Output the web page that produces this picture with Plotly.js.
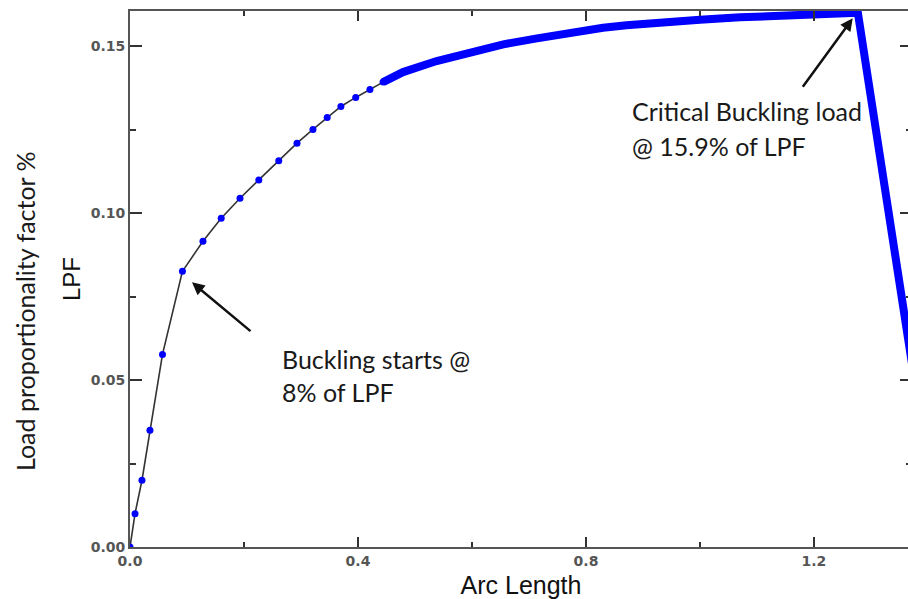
<!DOCTYPE html>
<html>
<head>
<meta charset="utf-8">
<script src="https://cdn.plot.ly/plotly-3.0.1.min.js"></script>
<style>
html,body{margin:0;padding:0;overflow:hidden;background:#fff;}
#chart{width:912px;height:599px;}
</style>
</head>
<body>
<div id="chart"></div>
<script>
// Pre-buckling / early post-buckling points (blue markers, black line)
const arcSparse = [0.0, 0.0088, 0.021, 0.035, 0.057, 0.092, 0.128, 0.160, 0.193, 0.226, 0.261, 0.293, 0.321, 0.346, 0.370, 0.396, 0.421, 0.444];
const lpfSparse = [0.0, 0.0100, 0.0200, 0.0350, 0.0577, 0.0826, 0.0916, 0.0985, 0.1045, 0.1100, 0.1157, 0.1210, 0.1251, 0.1287, 0.1320, 0.1347, 0.1371, 0.1393];

// Dense increments (drawn as thick blue band) up to critical load and the drop
const arcDense = [0.444, 0.479, 0.538, 0.596, 0.655, 0.714, 0.772, 0.830, 0.871, 0.930, 1.000, 1.070, 1.140, 1.211, 1.277, 1.361, 1.400];
const lpfDense = [0.1393, 0.1423, 0.1456, 0.1483, 0.1506, 0.1524, 0.1541, 0.1556, 0.1563, 0.1572, 0.1580, 0.1587, 0.1593, 0.1598, 0.1601, 0.0670, 0.0238];

const xTickVals = [0.0, 0.4, 0.8, 1.2];
const xTickText = ["0.0", "0.4", "0.8", "1.2"];
const yTickVals = [0.00, 0.05, 0.10, 0.15];
const yTickText = ["0.00", "0.05", "0.10", "0.15"];

const traces = [
  {
    x: arcDense, y: lpfDense, type: 'scatter', mode: 'lines',
    line: {color: '#0000ff', width: 8, shape: 'linear'},
    hoverinfo: 'skip'
  },
  {
    x: arcSparse, y: lpfSparse, type: 'scatter', mode: 'lines+markers',
    line: {color: '#333333', width: 1.6},
    marker: {color: '#0000ff', size: 7}
  }
];

const tickFont = {family: 'DejaVu Sans', size: 14, color: '#555', weight: 'bold'};
const noteFont = {family: 'Lato', size: 25, color: '#1a1a1a'};

const layout = {
  width: 912, height: 599,
  margin: {l: 130, r: 0, t: 11, b: 52},
  paper_bgcolor: '#fff', plot_bgcolor: '#fff',
  showlegend: false,
  xaxis: {
    range: [0, 1.372], showgrid: false, zeroline: false,
    showline: true, linecolor: '#555', linewidth: 2, mirror: 'ticks',
    ticks: 'inside', ticklen: 10, tickwidth: 2, tickcolor: '#333',
    tickvals: xTickVals, ticktext: xTickText, tickfont: tickFont,
    minor: {dtick: 0.2, tick0: 0, ticks: 'inside', ticklen: 5, tickwidth: 2, tickcolor: '#333', showgrid: false},
    title: {text: 'Arc Length', font: {family: 'Liberation Sans', size: 25, color: '#111'}, standoff: 10}
  },
  yaxis: {
    range: [0, 0.1606], showgrid: false, zeroline: false,
    showline: true, linecolor: '#555', linewidth: 2, mirror: 'ticks',
    ticks: 'inside', ticklen: 12, tickwidth: 2, tickcolor: '#333',
    tickvals: yTickVals, ticktext: yTickText, tickfont: tickFont,
    minor: {dtick: 0.025, tick0: 0, ticks: 'inside', ticklen: 6, tickwidth: 2, tickcolor: '#333', showgrid: false},
    title: {text: 'LPF', font: {family: 'Liberation Sans', size: 24, color: '#111'}, standoff: 3}
  },
  annotations: [
    {xref: 'paper', yref: 'paper', x: -0.1343, y: 0.4403, text: 'Load proportionality factor %',
     textangle: -90, showarrow: false, font: {family: 'Lato', size: 25, color: '#1a1a1a'}, xanchor: 'center', yanchor: 'middle'},
    {xref: 'x', yref: 'y', x: 0.1088, y: 0.0793, ax: 60, ay: 50, text: '', showarrow: true,
     arrowhead: 2, arrowsize: 1, arrowwidth: 2.5, arrowcolor: '#111'},
    {xref: 'x', yref: 'y', x: 1.268, y: 0.1584, ax: -51, ay: 70, text: '', showarrow: true,
     arrowhead: 2, arrowsize: 1, arrowwidth: 2.5, arrowcolor: '#111'},
    {xref: 'paper', yref: 'paper', x: 0.1918, y: 0.3507, text: 'Buckling starts @', showarrow: false,
     font: noteFont, xanchor: 'left', yanchor: 'middle'},
    {xref: 'paper', yref: 'paper', x: 0.1918, y: 0.2892, text: '8% of LPF', showarrow: false,
     font: noteFont, xanchor: 'left', yanchor: 'middle'},
    {xref: 'paper', yref: 'paper', x: 0.6394, y: 0.8134, text: 'Critical Buckling load', showarrow: false,
     font: noteFont, xanchor: 'left', yanchor: 'middle'},
    {xref: 'paper', yref: 'paper', x: 0.6394, y: 0.748, text: '@ 15.9% of LPF', showarrow: false,
     font: noteFont, xanchor: 'left', yanchor: 'middle'}
  ]
};

Plotly.newPlot('chart', traces, layout, {displayModeBar: false, staticPlot: true});
</script>
</body>
</html>
